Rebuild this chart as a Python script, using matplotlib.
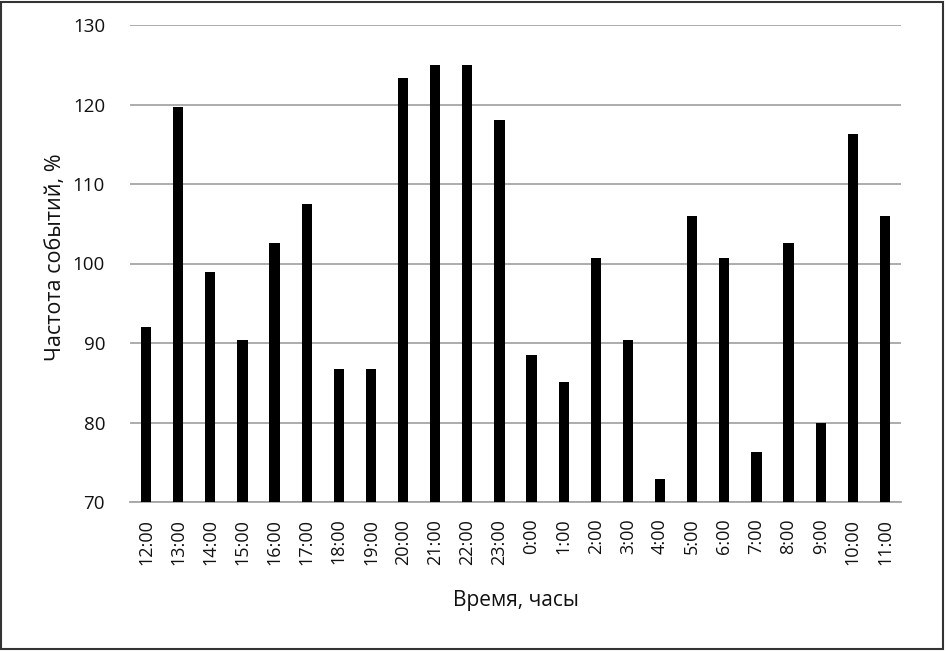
import matplotlib
matplotlib.use("Agg")
import matplotlib.pyplot as plt
from matplotlib.patches import Rectangle

hours = ["12:00", "13:00", "14:00", "15:00", "16:00", "17:00", "18:00", "19:00",
         "20:00", "21:00", "22:00", "23:00", "0:00", "1:00", "2:00", "3:00",
         "4:00", "5:00", "6:00", "7:00", "8:00", "9:00", "10:00", "11:00"]
freq = [92.0, 119.7, 98.9, 90.4, 102.6, 107.5, 86.7, 86.7,
        123.3, 125.0, 125.0, 118.1, 88.5, 85.1, 100.7, 90.4,
        72.9, 106.0, 100.7, 76.3, 102.6, 79.9, 116.3, 106.0]
yticks = [70, 80, 90, 100, 110, 120, 130]

plt.rcParams['font.family'] = ['Open Sans', 'DejaVu Sans']

W, H = 946, 651
fig = plt.figure(figsize=(W / 100, H / 100), dpi=100)
ax = fig.add_axes([130 / W, 1 - 502 / H, (901 - 130) / W, (502 - 25) / H])

x = list(range(len(hours)))
ax.bar(x, [v - 70 for v in freq], bottom=70, width=0.32, color='black', zorder=3)
ax.set_xlim(-0.5, len(hours) - 0.5)
ax.set_ylim(70, 130)
ax.set_yticks(yticks)
ax.set_yticklabels([str(t) for t in yticks], fontsize=13.5, color='#111111')
ax.set_xticks(x)
ax.set_xticklabels(hours, rotation=90, fontsize=13, color='#111111')
ax.tick_params(axis='x', length=0, pad=12)
ax.tick_params(axis='y', length=0, pad=18)
ax.grid(axis='y', color='#a6a6a6', linewidth=1.3, zorder=0)
for s in ['top', 'right', 'left']:
    ax.spines[s].set_visible(False)
ax.spines['bottom'].set_color('#a6a6a6')
ax.spines['bottom'].set_linewidth(1.3)

ax.set_xlabel("Время, часы", fontsize=15, labelpad=18, color='#111111')
fig.text(55 / W, 1 - 257 / H, "Частота событий, %", fontsize=15.5, rotation=90,
         ha='center', va='center', color='#111111')

fig.patches.append(Rectangle((1 / W, 2 / H), (943 - 1) / W, (H - 2 - 2) / H,
                             transform=fig.transFigure, fill=False,
                             edgecolor='#333333', linewidth=1.5))

fig.savefig("out.png", dpi=100)
